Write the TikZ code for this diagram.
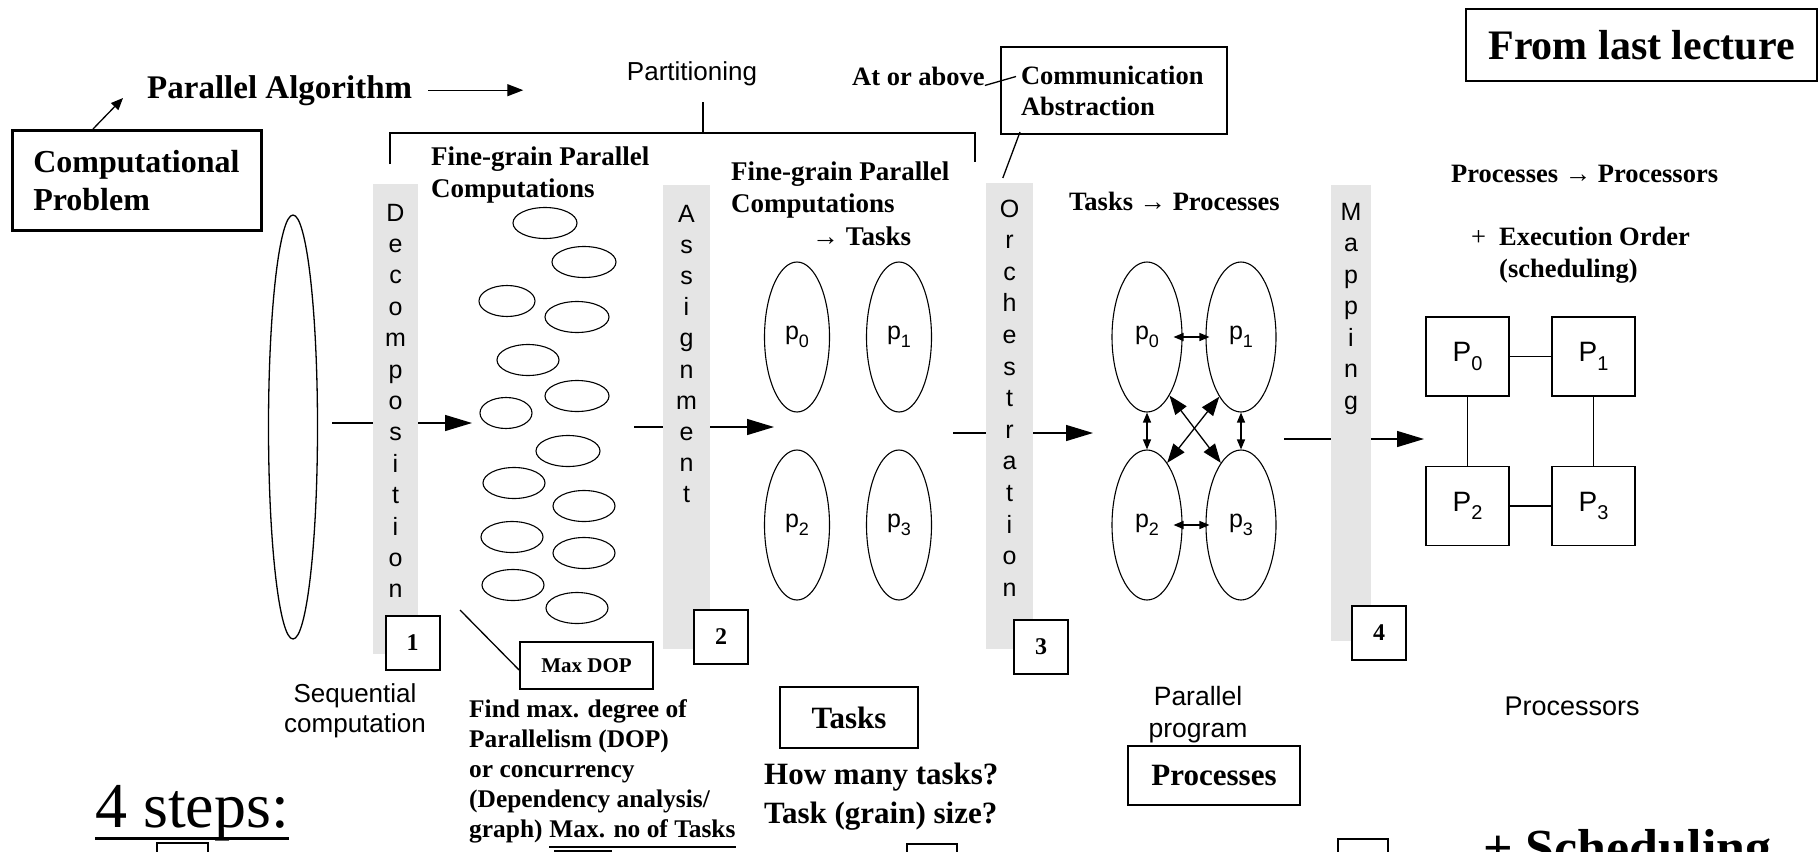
\documentclass[tikz,border=0pt]{standalone}
\usepackage{fontspec}
\setmainfont{Liberation Serif}
\setsansfont{Liberation Sans}
\usepackage{tikz}
\usetikzlibrary{shapes,calc,positioning,arrows.meta}

\newcommand{\fsz}[2]{\fontsize{#1}{#2}\selectfont}
\newcommand{\lowidx}[2]{\raisebox{-.3em}{\fontsize{#1}{#1}\selectfont #2}}

\begin{document}
\begin{tikzpicture}[x=1pt,y=-1pt,
    every node/.style={inner sep=0pt},
    box/.style={draw,line width=2pt},
    numbox/.style={box,fill=white,minimum width=54pt,minimum height=54pt,font=\fsz{24}{28}\bfseries},
    grey bar/.style={fill=black!10,minimum width=46pt,anchor=north},
    barletter/.style={anchor=base,font=\fsz{25}{30}\sffamily},
    fine/.style={draw,ellipse,line width=1.1pt,minimum height=31pt},
    proc/.style={draw,ellipse,line width=1.1pt,minimum width=70pt,minimum height=150pt,font=\fsz{25}{30}\sffamily},
    pbox/.style={draw,line width=1.1pt,minimum width=83pt,minimum height=79pt,font=\fsz{28}{32}\sffamily},
    ln/.style={line width=1.3pt},
    big/.style={ln,-{Triangle[length=27pt,width=16pt]}},
    dbl/.style={ln,{Triangle[length=10pt,width=8pt]}-{Triangle[length=10pt,width=8pt]}},
    xdbl/.style={ln,{Triangle[length=19pt,width=14pt]}-{Triangle[length=19pt,width=14pt]}},
    lab/.style={anchor=base west,align=left},
  ]
  \useasboundingbox (0,0) rectangle (1819,851);
  \clip (0,0) rectangle (1819,851);

  \node[lab,font=\fsz{33}{38}\bfseries] (palg) at (147,98) {Parallel Algorithm};
  \coordinate (palg-end) at ([xshift=111pt]palg.east);
  \draw[ln,-{Triangle[length=16pt,width=12pt]}] ([xshift=16pt]palg.east) -- (palg-end);
  \node[box,line width=2.5pt,anchor=north west,minimum width=249pt,minimum height=100pt,
        text width=207pt,inner xsep=21pt,align=left,font=\fsz{32}{38}\bfseries] (comp) at (11,129) {Computational\\Problem};
  \draw[ln,-{Triangle[length=12pt,width=10pt]}] ([xshift=82pt]comp.north west) -- ([xshift=-24pt]palg.base west);

  \node[anchor=base,font=\fsz{26}{30}\sffamily] (part) at (692,80) {Partitioning};
  \coordinate (br-top) at (703,102);
  \coordinate (br-mid) at (703,133);
  \coordinate (br-l) at (390,164);
  \coordinate (br-r) at (975,162);
  \draw[ln] (br-l) |- (br-mid) -| (br-r);
  \draw[ln] (br-top) -- (br-mid);

  \node[lab,font=\fsz{26.5}{31}\bfseries] (above) at (852,85) {At or above};
  \node[box,anchor=north west,minimum width=226pt,minimum height=87pt,text width=186pt,
        inner xsep=20pt,align=left,font=\fsz{26.5}{31}\bfseries] (comm) at (1000,46) {Communication\\Abstraction};
  \draw[ln] (above.south east) -- ($(comm.west)+(16,-14)$);
  \node[box,anchor=north west,minimum width=351pt,minimum height=72pt,
        font=\fsz{42}{48}\bfseries] (last) at (1465,8) {From last lecture};

  \node[grey bar,minimum width=45pt,minimum height=470pt] (dec) at (395.5,184) {};
  \node[grey bar,minimum width=47pt,minimum height=464pt] (asg) at (686.5,185) {};
  \node[grey bar,minimum width=47pt,minimum height=466pt] (orc) at (1009.5,183) {};
  \node[grey bar,minimum width=40pt,minimum height=456pt] (map) at (1351,185) {};
  \foreach \l [count=\i] in {D,e,c,o,m,p,o,s,i,t,i,o,n}
    \node[barletter] (dec-\i) at (395.5,{221+(\i-1)*31.4}) {\l};
  \foreach \l [count=\i] in {A,s,s,i,g,n,m,e,n,t}
    \node[barletter] (asg-\i) at (686.5,{222+(\i-1)*31.2}) {\l};
  \foreach \l [count=\i] in {O,r,c,h,e,s,t,r,a,t,i,o,n}
    \node[barletter] (orc-\i) at (1009.5,{217+(\i-1)*31.6}) {\l};
  \foreach \l [count=\i] in {M,a,p,p,i,n,g}
    \node[barletter] (map-\i) at (1351,{220+(\i-1)*31.5}) {\l};
  \draw[ln] ($(comm.south west)+(20,-3)$) -- ($(orc.north west)+(17,-5)$);

  \node[draw,ellipse,ln,minimum width=49pt,minimum height=424pt] (seq) at (293,427) {};
  \foreach \x/\y/\w [count=\i] in {545/223/64,584/262/64,507/301/56,577/317/64,528/360/62,577/396/64,506/413/52,
                                  568/451/64,514/483/62,584/506/62,512/537/62,584/553/62,513/585/62,577/608/62}
    \node[fine,minimum width=\w pt] (g\i) at (\x,\y) {};

  \node[proc,minimum width=65pt] (t0) at (797,337) {p\lowidx{18}{0}};
  \node[proc,minimum width=65pt] (t1) at (899,337) {p\lowidx{18}{1}};
  \node[proc,minimum width=65pt] (t2) at (797,525) {p\lowidx{18}{2}};
  \node[proc,minimum width=65pt] (t3) at (899,525) {p\lowidx{18}{3}};

  \node[proc] (pr0) at (1147,337) {p\lowidx{18}{0}};
  \node[proc] (pr1) at (1241,337) {p\lowidx{18}{1}};
  \node[proc] (pr2) at (1147,525) {p\lowidx{18}{2}};
  \node[proc] (pr3) at (1241,525) {p\lowidx{18}{3}};
  \draw[dbl] ([xshift=-9pt]pr0.east) -- ([xshift=4pt]pr1.west);
  \draw[dbl] ([xshift=-9pt]pr2.east) -- ([xshift=4pt]pr3.west);
  \draw[dbl] (pr0.south) -- (pr2.north);
  \draw[dbl] (pr1.south) -- (pr3.north);
  \draw[xdbl] (pr0.-69) -- (pr3.108);
  \draw[xdbl] (pr1.-110) -- (pr2.72);

  \node[pbox] (P0) at (1467.5,356.5) {P\lowidx{20}{0}};
  \node[pbox] (P1) at (1593.5,356.5) {P\lowidx{20}{1}};
  \node[pbox] (P2) at (1467.5,506) {P\lowidx{20}{2}};
  \node[pbox] (P3) at (1593.5,506) {P\lowidx{20}{3}};
  \draw[ln] (P0) -- (P1);
  \draw[ln] (P0) -- (P2);
  \draw[ln] (P1) -- (P3);
  \draw[ln] (P2) -- (P3);

  \coordinate (d-in) at (332,423);
  \coordinate (d-out) at (472,423);
  \draw[ln] (d-in) -- (d-in -| dec.west);
  \draw[big] (d-out -| dec.east) -- (d-out);
  \coordinate (a-in) at (634,427);
  \coordinate (a-out) at (774,427);
  \draw[ln] (a-in) -- (a-in -| asg.west);
  \draw[big] (a-out -| asg.east) -- (a-out);
  \coordinate (o-in) at (953,433);
  \coordinate (o-out) at (1093,433);
  \draw[ln] (o-in) -- (o-in -| orc.west);
  \draw[big] (o-out -| orc.east) -- (o-out);
  \coordinate (m-in) at (1284,439);
  \coordinate (m-out) at (1424,439);
  \draw[ln] (m-in) -- (m-in -| map.west);
  \draw[big] (m-out -| map.east) -- (m-out);

  \node[numbox] (n1) at (412.5,643) {1};
  \node[numbox] (n2) at (721,636.5) {2};
  \node[numbox] (n3) at (1041,646.5) {3};
  \node[numbox] (n4) at (1379,632.5) {4};

  \node[lab,font=\fsz{27}{32}\bfseries] (fg1) at (431,197) {Fine-grain Parallel\\Computations};
  \node[lab,font=\fsz{27}{32.5}\bfseries] (fg2) at (731,245) {Fine-grain Parallel\\Computations\\\hspace*{81pt}→ Tasks};
  \node[lab,font=\fsz{26.5}{31}\bfseries] (tp) at (1069,210) {Tasks → Processes};
  \node[lab,font=\fsz{26.5}{32}\bfseries] (pp) at (1451,182) {Processes → Processors};
  \node[lab,font=\fsz{26.5}{32}] (plus) at (1471,245) {+};
  \node[lab,font=\fsz{26.5}{32}\bfseries] (exord) at (1499,277) {Execution Order\\(scheduling)};

  \node[box,line width=1.8pt,minimum width=133pt,minimum height=47pt,font=\fsz{21}{24}\bfseries] (dop) at (586.5,665.5) {Max DOP};
  \coordinate (dop-from) at (460,610);
  \draw[ln] (dop-from) -- ([yshift=-4.5pt]dop.west);

  \node[anchor=base,align=center,font=\fsz{26}{30}\sffamily] (seqlab) at (355,732) {Sequential\\computation};
  \node[lab,font=\fsz{25.4}{30}\bfseries] (doptxt) at (469,807) {Find max. degree of\\Parallelism (DOP)\\or concurrency\\(Dependency analysis/};
  \node[lab,font=\fsz{25.4}{30}\bfseries] (graph) at (469,837) {graph)};
  \node[anchor=base west,font=\fsz{25.4}{30}\bfseries] (maxno) at ([xshift=6.4pt]graph.base east) {Max. no of Tasks};
  \draw[line width=2.5pt] ([yshift=-10pt]maxno.base west) -- ([yshift=-10pt]maxno.base east);

  \node[box,minimum width=138pt,minimum height=61pt,font=\fsz{31}{36}\bfseries] (tasks) at (849,717.5) {Tasks};
  \node[lab,font=\fsz{31}{39}\bfseries] (howmany) at (764,823) {How many tasks?\\Task (grain) size?};
  \node[anchor=base,align=center,font=\fsz{26.5}{32}\sffamily] (parprog) at (1198,737) {Parallel\\program};
  \node[box,minimum width=172pt,minimum height=59pt,font=\fsz{31}{36}\bfseries] (procs) at (1214,775.5) {Processes};
  \node[anchor=base,font=\fsz{27}{32}\sffamily] (cpus) at (1572,715) {Processors};

  \node[lab,font=\fsz{64}{70}] (steps) at (95,827) {4 steps:};
  \draw[line width=3pt] ([yshift=-11pt]steps.base west) -- ([yshift=-11pt]steps.base east);
  \node[box,anchor=north west,minimum width=51pt,minimum height=50pt] (s1) at (156,842) {};
  \node[box,line width=2.5pt,anchor=north west,minimum width=55pt,minimum height=50pt] (s2) at (554,850) {};
  \node[box,anchor=north west,minimum width=50pt,minimum height=50pt] (s3) at (906,843) {};
  \node[box,anchor=north west,minimum width=50pt,minimum height=50pt] (s4) at (1337,838) {};
  \node[lab,font=\fsz{52}{60}\bfseries] (sched) at (1483,865) {+ Scheduling};
\end{tikzpicture}
\end{document}
